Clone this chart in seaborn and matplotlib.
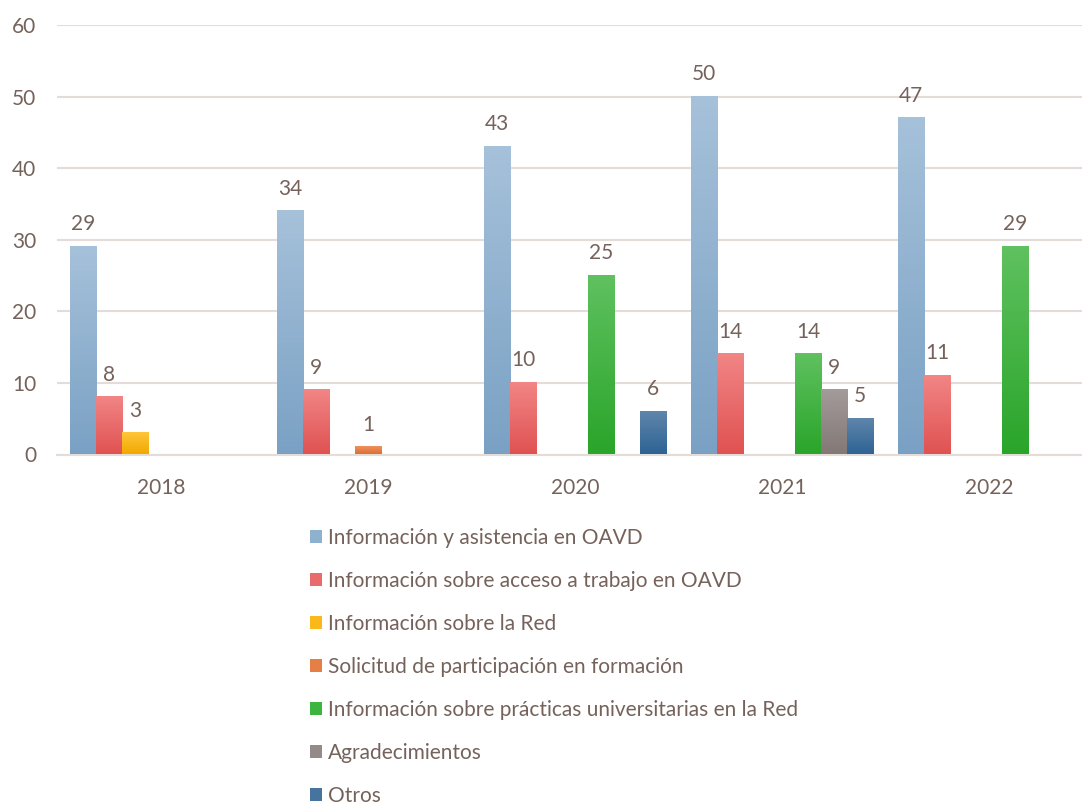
import numpy as np
import pandas as pd
import matplotlib
matplotlib.use("Agg")
import matplotlib.pyplot as plt
from matplotlib.colors import to_rgb
from matplotlib.patches import Patch
import seaborn as sns

years = ["2018", "2019", "2020", "2021", "2022"]
categories = [
    "Información y asistencia en OAVD",
    "Información sobre acceso a trabajo en OAVD",
    "Información sobre la Red",
    "Solicitud de participación en formación",
    "Información sobre prácticas universitarias en la Red",
    "Agradecimientos",
    "Otros",
]
asistencia = [29, 34, 43, 50, 47]
acceso_trabajo = [8, 9, 10, 14, 11]
info_red = [3, 0, 0, 0, 0]
formacion = [0, 1, 0, 0, 0]
practicas = [0, 0, 25, 14, 29]
agradecimientos = [0, 0, 0, 9, 0]
otros = [0, 0, 6, 5, 0]

# top / bottom colours of each bar gradient
top_colors = ["#a6c1da", "#f28585", "#ffc53a", "#ef9060", "#5fc15f", "#a39b9a", "#5f86ab"]
bottom_colors = ["#7aa1c4", "#e05252", "#f2a900", "#dd7030", "#2aa52a", "#837876", "#2e6395"]
mid_colors = ["#8fb1d0", "#ea6b6b", "#fbb81a", "#e67f45", "#3db43d", "#948a88", "#46749f"]

series = [asistencia, acceso_trabajo, info_red, formacion, practicas, agradecimientos, otros]
df = pd.DataFrame({
    "year": np.tile(years, len(categories)),
    "cat": np.repeat(categories, len(years)),
    "value": np.concatenate(series),
})

text_color = "#75625b"
grid_color = "#e4dcd9"

sns.set_style("white")
plt.rcParams["font.family"] = ["Lato", "DejaVu Sans"]
fs = 15

fig = plt.figure(figsize=(10.82, 8.07), dpi=100)
ax = fig.add_axes([57 / 1082, (807 - 454.5) / 807, 1025 / 1082, 429.5 / 807])

sns.barplot(data=df, x="year", y="value", hue="cat", order=years, hue_order=categories,
            palette=mid_colors, width=0.88, linewidth=0, errorbar=None, legend=False, ax=ax)

for i, cont in enumerate(ax.containers):
    grad = np.linspace(to_rgb(top_colors[i]), to_rgb(bottom_colors[i]), 64).reshape(64, 1, 3)
    for bar in cont:
        h = bar.get_height()
        if h <= 0:
            bar.set_visible(False)
            continue
        x0, w = bar.get_x(), bar.get_width()
        ax.imshow(grad, extent=[x0, x0 + w, 0, h], aspect="auto", origin="upper",
                  interpolation="bilinear", zorder=3)
        bar.set_alpha(0)
    labels = [f"{b.get_height():.0f}" if b.get_height() > 0 else "" for b in cont]
    ax.bar_label(cont, labels=labels, padding=9, fontsize=fs, color=text_color)

ax.set_xlim(-0.502, 4.449)
ax.set_ylim(0, 60)
ax.set_yticks(range(0, 61, 10))
ax.yaxis.grid(True, color=grid_color, linewidth=1.5, zorder=0)
ax.set_axisbelow(True)
for s in ["top", "right", "left"]:
    ax.spines[s].set_visible(False)
ax.spines["bottom"].set_color(grid_color)
ax.spines["bottom"].set_linewidth(1.5)
ax.tick_params(axis="both", length=0, labelsize=fs, labelcolor=text_color)
ax.tick_params(axis="y", pad=15)
ax.tick_params(axis="x", pad=17)
ax.set_xlabel("")
ax.set_ylabel("")

handles = [Patch(facecolor=c, edgecolor="none") for c in mid_colors]
fig.legend(handles, categories, loc="upper left", bbox_to_anchor=(310 / 1082, 0.3457),
           bbox_transform=fig.transFigure, frameon=False, borderpad=0, borderaxespad=0,
           fontsize=fs, labelcolor=text_color, handlelength=0.58, handleheight=0.58,
           handletextpad=0.3, labelspacing=1.1)

fig.savefig("out.png", dpi=100)
